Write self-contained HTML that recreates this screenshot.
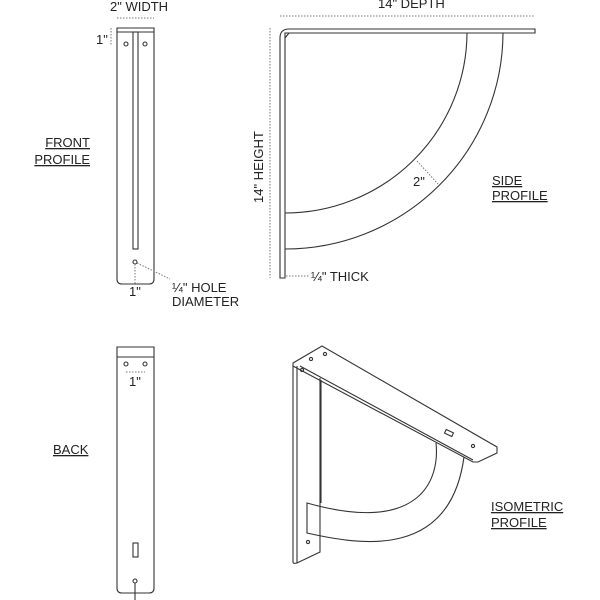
<!DOCTYPE html>
<html><head><style>
html,body{margin:0;padding:0;background:#fff;}
svg{display:block;}
text{font-family:"Liberation Sans",Arial,sans-serif;font-size:13px;fill:#222;}
</style></head><body>
<svg width="600" height="600" viewBox="0 0 600 600" xmlns="http://www.w3.org/2000/svg">
<g fill="none" stroke="#333" stroke-width="1.1">
<!-- FRONT -->
<path d="M117,28 H154 V279 Q154,284 149,284 H122 Q117,284 117,279 Z"/>
<line x1="117" y1="32" x2="154" y2="32"/>
<rect x="133" y="32" width="5" height="217"/>
<circle cx="126" cy="44" r="2"/><circle cx="145" cy="44" r="2"/>
<circle cx="135" cy="262" r="2"/>
<!-- BACK -->
<path d="M117,347 H154 V588 Q154,593 149,593 H122 Q117,593 117,588 Z"/>
<line x1="117" y1="357" x2="154" y2="357"/>
<circle cx="126" cy="364" r="2"/><circle cx="145" cy="364" r="2"/>
<rect x="133" y="543" width="5" height="14"/>
<circle cx="135" cy="581" r="2"/>
<line x1="135" y1="583" x2="135" y2="600"/>
<!-- SIDE -->
<path d="M280,278 V38 Q280,29 289,29 H535 V33 H285 V278 Z"/>
<line x1="285" y1="38" x2="289" y2="33"/>
<path d="M467,33 A182,181 0 0 1 285,213"/>
<path d="M503,33 A218,217 0 0 1 285,249"/>
<!-- ISO -->
<path d="M293,363 L322,346 L497,447 L497,453 L478,462 L473,462 L293,366 Z"/>
<line x1="300" y1="366" x2="473" y2="460"/>
<path d="M293,366 V562 Q293,564 297,563 L320,552 V378"/>
<line x1="297" y1="366" x2="297" y2="563"/>
<line x1="321" y1="380" x2="321" y2="503"/>
<path d="M436,443 C440,480 420,535 307,503 V533 C360,545 450,560 464,457"/>
<circle cx="311" cy="359" r="1.6"/><circle cx="325" cy="354" r="1.6"/><circle cx="302" cy="370" r="1.6"/>
<circle cx="473" cy="446" r="1.6"/><circle cx="308" cy="542" r="1.6"/>
<rect x="445" y="431" width="8" height="4" transform="rotate(25 449 433)"/>
</g>
<g fill="none" stroke="#777" stroke-width="1" stroke-dasharray="1.5,1.5">
<line x1="117" y1="18" x2="154" y2="18"/>
<line x1="111" y1="28" x2="111" y2="46"/>
<line x1="135" y1="264" x2="135" y2="284"/>
<line x1="137" y1="263" x2="170" y2="279"/>
<line x1="126" y1="372" x2="145" y2="372"/>
<line x1="280" y1="16" x2="535" y2="16"/>
<line x1="270" y1="28" x2="270" y2="278"/>
<line x1="417" y1="161" x2="438" y2="184"/>
<line x1="286" y1="276" x2="310" y2="276"/>
</g>
<text x="110" y="11">2" WIDTH</text>
<text x="96" y="44">1"</text>
<text x="129" y="296">1"</text>
<text x="172" y="292">¼" HOLE</text>
<text x="172" y="306">DIAMETER</text>
<text x="90" y="147" text-anchor="end" text-decoration="underline">FRONT</text>
<text x="90" y="164" text-anchor="end" text-decoration="underline">PROFILE</text>
<text x="129" y="386">1"</text>
<text x="53" y="454" text-decoration="underline">BACK</text>
<text x="378" y="8">14" DEPTH</text>
<text transform="translate(263,203) rotate(-90)">14" HEIGHT</text>
<text x="413" y="186">2"</text>
<text x="311" y="281">¼" THICK</text>
<text x="492" y="185" text-decoration="underline">SIDE</text>
<text x="492" y="200" text-decoration="underline">PROFILE</text>
<text x="491" y="511" text-decoration="underline">ISOMETRIC</text>
<text x="491" y="527" text-decoration="underline">PROFILE</text>
</svg>
</body></html>
